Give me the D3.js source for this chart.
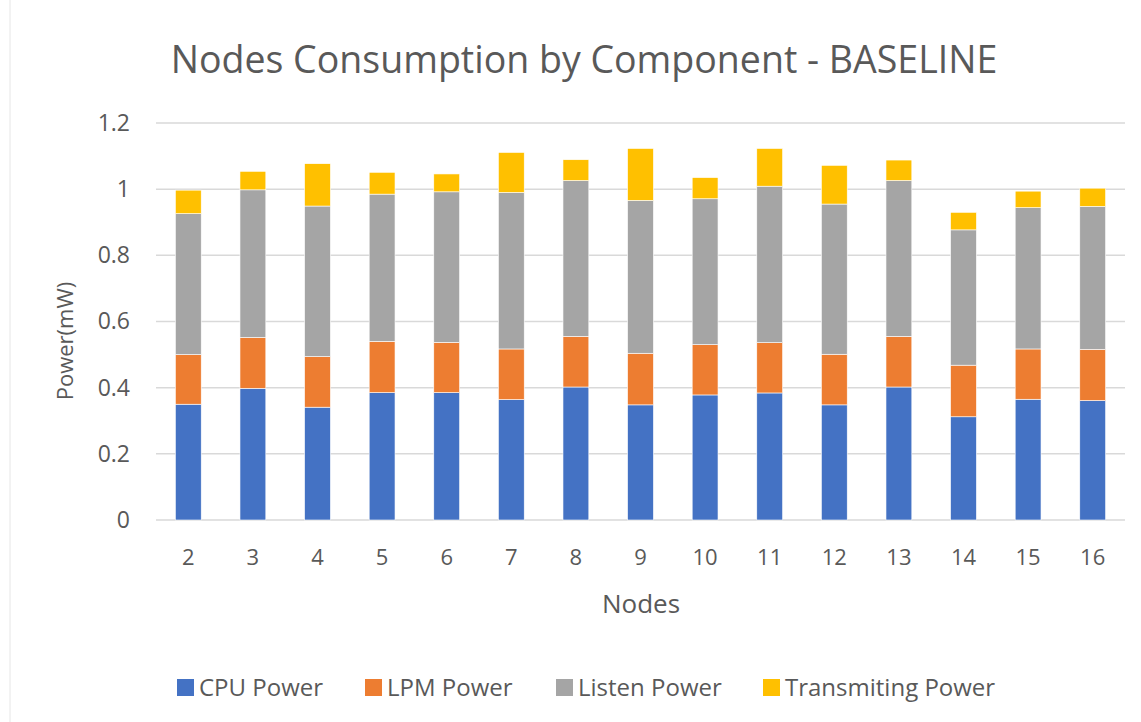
<!DOCTYPE html>
<html>
<head>
<meta charset="utf-8">
<script src="https://cdnjs.cloudflare.com/ajax/libs/d3/7.8.5/d3.min.js"></script>
<style>
  body { margin: 0; background: #fff; }
  text { font-family: "Open Sans", sans-serif; fill: #595959; }
</style>
</head>
<body>
<div id="chart"></div>
<script>
// values (mW)
var nodes = ['2', '3', '4', '5', '6', '7', '8', '9', '10', '11', '12', '13', '14', '15', '16'];
var cpuPower = [0.350, 0.398, 0.341, 0.385, 0.385, 0.364, 0.402, 0.348, 0.378, 0.384, 0.348, 0.402, 0.312, 0.365, 0.361];
var lpmPower = [0.150, 0.154, 0.153, 0.155, 0.152, 0.153, 0.153, 0.156, 0.152, 0.152, 0.153, 0.153, 0.156, 0.152, 0.155];
var listenPower = [0.426, 0.446, 0.455, 0.445, 0.455, 0.473, 0.471, 0.462, 0.441, 0.473, 0.454, 0.471, 0.409, 0.427, 0.432];
var transmitPower = [0.071, 0.056, 0.128, 0.066, 0.054, 0.121, 0.063, 0.157, 0.064, 0.114, 0.117, 0.062, 0.053, 0.050, 0.055];
var seriesNames = ['CPU Power', 'LPM Power', 'Listen Power', 'Transmiting Power'];
var seriesColors = ['#4472C4', '#ED7D31', '#A5A5A5', '#FFC000'];
var yTicks = [0, 0.2, 0.4, 0.6, 0.8, 1, 1.2];

var w = 1141;
var h = 722;
var margin = { left: 156, right: 16, top: 123, bottom: 202 };

// rows for d3.stack
var rows = nodes.map(function(n, i) {
    return { node: n, 'CPU Power': cpuPower[i], 'LPM Power': lpmPower[i],
             'Listen Power': listenPower[i], 'Transmiting Power': transmitPower[i] };
});
var stacked = d3.stack().keys(seriesNames)(rows);

var svg = d3.select('#chart')
    .append('svg')
    .attr('width', w)
    .attr('height', h);

// faint frame on the left like the screenshot
svg.append('line')
    .attr('x1', 10).attr('x2', 10).attr('y1', 0).attr('y2', h)
    .attr('stroke', '#e6e6e6');

var x = d3.scaleBand()
    .domain(nodes)
    .range([margin.left, w - margin.right])
    .paddingInner(0.6)
    .paddingOuter(0.3);

var y = d3.scaleLinear()
    .domain([0, 1.2])
    .range([h - margin.bottom, margin.top]);

// gridlines
svg.append('g')
    .selectAll('line')
    .data(yTicks)
    .enter()
    .append('line')
    .attr('x1', margin.left)
    .attr('x2', w - margin.right)
    .attr('y1', function(d) { return y(d); })
    .attr('y2', function(d) { return y(d); })
    .attr('stroke', '#d9d9d9')
    .attr('stroke-width', 1.5);

// y axis labels
var yAxis = d3.axisLeft(y).tickValues(yTicks).tickSize(0).tickPadding(26)
    .tickFormat(function(d) { return d3.format('')(d); });
svg.append('g')
    .attr('transform', 'translate(' + margin.left + ',0)')
    .call(yAxis)
    .call(function(g) { g.select('.domain').remove(); })
    .selectAll('text')
    .style('font-size', '23px')
    .style('font-family', '"Open Sans", sans-serif')
    .attr('fill', '#595959');

// x axis labels
var xAxis = d3.axisBottom(x).tickSize(0).tickPadding(29);
svg.append('g')
    .attr('transform', 'translate(0,' + y(0) + ')')
    .call(xAxis)
    .call(function(g) { g.select('.domain').remove(); })
    .selectAll('text')
    .style('font-size', '22px')
    .style('font-family', '"Open Sans", sans-serif')
    .attr('fill', '#595959');

// bars
svg.append('g')
    .selectAll('g')
    .data(stacked)
    .enter()
    .append('g')
    .attr('fill', function(d, i) { return seriesColors[i]; })
    .selectAll('rect')
    .data(function(d) { return d; })
    .enter()
    .append('rect')
    .attr('x', function(d) { return x(d.data.node); })
    .attr('width', x.bandwidth())
    .attr('y', function(d) { return y(d[1]); })
    .attr('height', function(d) { return y(d[0]) - y(d[1]); })
    .attr('stroke', '#fff')
    .attr('stroke-width', 0.6);

// title
svg.append('text')
    .attr('x', 584)
    .attr('y', 73)
    .attr('text-anchor', 'middle')
    .style('font-size', '37.5px')
    .text('Nodes Consumption by Component - BASELINE');

// axis titles
svg.append('text')
    .attr('transform', 'translate(73,341) rotate(-90)')
    .attr('text-anchor', 'middle')
    .style('font-size', '22px')
    .text('Power(mW)');

svg.append('text')
    .attr('x', 641)
    .attr('y', 613)
    .attr('text-anchor', 'middle')
    .style('font-size', '26px')
    .text('Nodes');

// legend
var legendX = [177, 365, 556, 763];
var legend = svg.append('g')
    .selectAll('g')
    .data(seriesNames)
    .enter()
    .append('g')
    .attr('transform', function(d, i) { return 'translate(' + legendX[i] + ',679)'; });
legend.append('rect')
    .attr('width', 17)
    .attr('height', 17)
    .attr('fill', function(d, i) { return seriesColors[i]; });
legend.append('text')
    .attr('x', 22)
    .attr('y', 17)
    .style('font-size', '24px')
    .text(function(d) { return d; });
</script>
</body>
</html>
